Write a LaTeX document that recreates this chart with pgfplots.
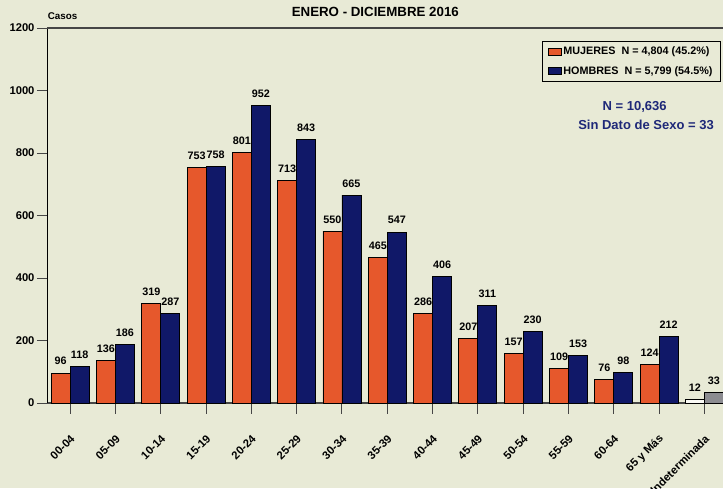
\documentclass[border=0pt]{standalone}
\usepackage{fontspec}
\setmainfont{Liberation Sans}
\usepackage{pgfplots}
\pgfplotsset{compat=1.18}
\definecolor{bg}{RGB}{232,234,214}
\definecolor{mujer}{RGB}{230,88,44}
\definecolor{hombre}{RGB}{16,24,104}
\definecolor{ntext}{RGB}{30,40,120}
\definecolor{indgray}{RGB}{140,140,145}
\definecolor{indwhite}{RGB}{250,250,245}
\definecolor{axgray}{RGB}{70,70,70}
\begin{document}
\begin{tikzpicture}
\fill[bg, use as bounding box] (0,0) rectangle (723pt,-488pt);
\begin{axis}[
  at={(47.5pt,-403pt)}, anchor=south west,
  scale only axis, width=675.5pt, height=375pt,
  xmin=-0.5, xmax=14.41, ymin=0, ymax=1200,
  clip=false,
  ybar, bar width=19pt,
  axis y line*=left, axis x line*=bottom,
  y axis line style={black, line width=1pt},
  x axis line style={axgray, line width=1.4pt},
  ytick={0,200,...,1200},
  xtick={0,...,14},
  xticklabels={00-04,05-09,10-14,15-19,20-24,25-29,30-34,35-39,40-44,45-49,50-54,55-59,60-64,65 y Más,Indeterminada},
  tick align=outside, major tick length=10.5pt,
  every tick/.style={axgray, line width=1pt},
  /pgf/number format/assume math mode=true,
  /pgf/number format/1000 sep={},
  y tick label style={font=\bfseries\fontsize{11.2}{13}\selectfont, xshift=1pt},
  x tick label style={font=\bfseries\fontsize{11.3}{13}\selectfont, xshift=5pt, yshift=-21pt, rotate=45, anchor=east},
  nodes near coords,
  every node near coord/.append style={font=\bfseries\fontsize{10.8}{13}\selectfont, text=black, yshift=4.2pt},
  legend style={at={(axis description cs:0.997,0.9653)}, anchor=north east, draw=black, line width=1pt, fill=bg,
    font=\bfseries\fontsize{10.8}{12}\selectfont, inner xsep=6pt, inner ysep=3.5pt, row sep=6pt,
    nodes={inner sep=2pt}},
  legend cell align=left,
]
\addplot[fill=mujer, draw=black, line width=0.9pt, bar shift=-9.5pt, forget plot] coordinates {
(0,96) (1,136) (2,319) (3,753) (4,801) (5,713) (6,550) (7,465) (8,286) (9,207) (10,157) (11,109) (12,76) (13,124)};
\addplot[fill=hombre, draw=black, line width=0.9pt, bar shift=9.5pt, forget plot] coordinates {
(0,118) (1,186) (2,287) (3,758) (4,952) (5,843) (6,665) (7,547) (8,406) (9,311) (10,230) (11,153) (12,98) (13,212)};
\addplot[fill=indwhite, draw=black, line width=0.9pt, bar shift=-9.5pt, forget plot] coordinates {(14,12)};
\addplot[fill=indgray, draw=black, line width=0.9pt, bar shift=9.5pt, forget plot] coordinates {(14,33)};
\addlegendimage{legend image code/.code={\draw[fill=mujer,draw=black,line width=0.8pt] (0pt,-3.4pt) rectangle (12.5pt,3.4pt);}}
\addlegendentry{MUJERES\ \ N = 4,804 (45.2\%)}
\addlegendimage{legend image code/.code={\draw[fill=hombre,draw=black,line width=0.8pt] (0pt,-3.4pt) rectangle (12.5pt,3.4pt);}}
\addlegendentry{HOMBRES\ \ N = 5,799 (54.5\%)}
\draw[axgray, line width=1.4pt] (rel axis cs:0,1) -- (rel axis cs:1,1);
\end{axis}
\node[font=\bfseries\fontsize{13.3}{15}\selectfont, anchor=base] at (375.3pt,-16.7pt) {ENERO - DICIEMBRE 2016};
\node[font=\bfseries\fontsize{9.8}{11}\selectfont, anchor=base west, inner sep=0pt] at (47.7pt,-19.4pt) {Casos};
\node[font=\bfseries\fontsize{13}{15}\selectfont, text=ntext, anchor=base] at (634.7pt,-110pt) {N = 10,636};
\node[font=\bfseries\fontsize{13}{15}\selectfont, text=ntext, anchor=base] at (646pt,-129.5pt) {Sin Dato de Sexo = 33};
\end{tikzpicture}
\end{document}
